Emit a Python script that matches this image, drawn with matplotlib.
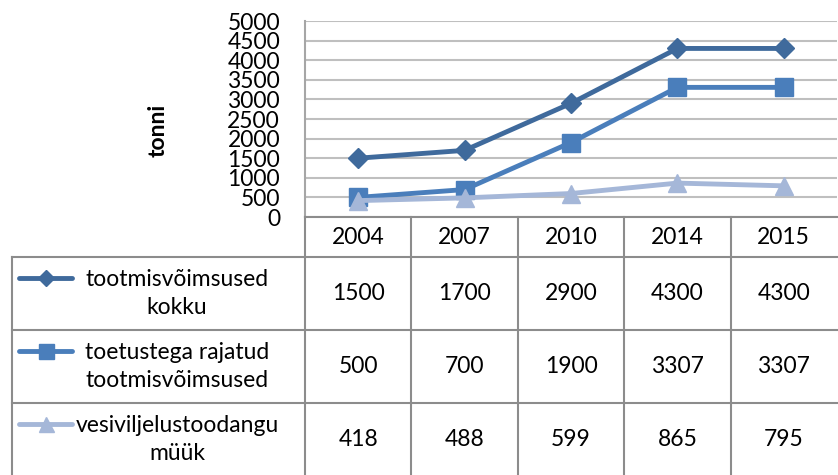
import matplotlib
matplotlib.use('Agg')
import matplotlib.pyplot as plt

# Data
years = ['2004', '2007', '2010', '2014', '2015']
kokku = [1500, 1700, 2900, 4300, 4300]
toetustega = [500, 700, 1900, 3307, 3307]
myyk = [418, 488, 599, 865, 795]

series_names = ['tootmisvõimsused\nkokku', 'toetustega rajatud\ntootmisvõimsused',
                'vesiviljelustoodangu\nmüük']
series_values = [kokku, toetustega, myyk]
colors = ['#3F6A9C', '#4A7EBB', '#A5B7D8']
markers = ['D', 's', '^']
msizes = [10.5, 13.5, 13.5]

plt.rcParams['font.family'] = ['Lato', 'DejaVu Sans']
fs = 16.5

W, H = 838, 475
fig = plt.figure(figsize=(W / 100, H / 100), dpi=100)

# pixel layout
px_left, px_right, px_top, px_bottom = 305, 837, 21, 217
ax = fig.add_axes([px_left / W, 1 - px_bottom / H, (px_right - px_left) / W, (px_bottom - px_top) / H])

xs = range(len(years))
for vals, c, m, ms in zip(series_values, colors, markers, msizes):
    ax.plot(xs, vals, color=c, lw=3.5, marker=m, markersize=ms, zorder=3)

ax.set_xlim(-0.5, len(years) - 0.5)
ax.set_ylim(0, 5000)
ax.set_yticks(range(0, 5001, 500))
ax.set_yticklabels([str(v) for v in range(0, 5001, 500)], fontsize=fs)
ax.yaxis.set_tick_params(length=0, pad=18)
ax.set_xticks([])
ax.grid(axis='y', color='#BFBFBF', lw=1.5)
ax.set_axisbelow(True)
for s in ['top', 'right', 'bottom']:
    ax.spines[s].set_visible(False)
ax.spines['left'].set_color('#A6A6A6')
ax.spines['left'].set_linewidth(1.5)

fig.text(158 / W, 1 - 130 / H, 'tonni', rotation=90, fontsize=fs, fontweight='bold',
         ha='center', va='center')

# data table drawn in pixel coordinates on an overlay axes
tab = fig.add_axes([0, 0, 1, 1])
tab.set_xlim(0, W)
tab.set_ylim(H, 0)
tab.axis('off')

line_c = '#8C8C8C'
col_w = (px_right - px_left) / len(years)
header_top, header_bot = 217, 257
row_h = 73
tab_left = 12

# vertical lines
for i in range(len(years)):
    x = px_left + i * col_w
    tab.plot([x, x], [header_top, H], color=line_c, lw=1.5)
tab.plot([tab_left, tab_left], [header_bot, H], color=line_c, lw=1.5)
# horizontal lines
tab.plot([px_left, W], [header_top, header_top], color=line_c, lw=1.5)
for r in range(len(series_names)):
    y = header_bot + r * row_h
    tab.plot([tab_left, W], [y, y], color=line_c, lw=1.5)

# header
for i, yr in enumerate(years):
    tab.text(px_left + (i + 0.5) * col_w, (header_top + header_bot) / 2 + 1, yr,
             ha='center', va='center', fontsize=fs)

# rows
for r, (name, vals, c, m, ms) in enumerate(zip(series_names, series_values, colors, markers, msizes)):
    y0 = header_bot + r * row_h
    yc = y0 + row_h / 2
    tab.plot([19, 72], [y0 + 21, y0 + 21], color=c, lw=3.5, solid_capstyle='round')
    tab.plot([45.5], [y0 + 21], marker=m, color=c, markersize=ms * 0.8, lw=0)
    tab.text(177, yc, name, ha='center', va='center', fontsize=fs, linespacing=1.4)
    for i, v in enumerate(vals):
        tab.text(px_left + (i + 0.5) * col_w, yc, str(v), ha='center', va='center', fontsize=fs)

fig.savefig('out.png', dpi=100)
